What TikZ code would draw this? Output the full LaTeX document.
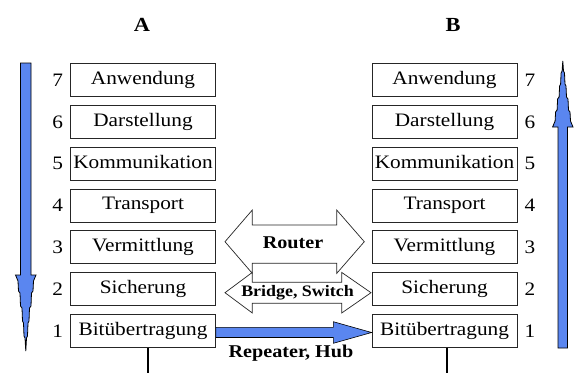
\documentclass[tikz,border=0pt]{standalone}
\usepackage{fontspec}
\setmainfont[FakeStretch=1.12]{Liberation Serif}
\usetikzlibrary{arrows.meta,positioning,calc}
\definecolor{flowblue}{RGB}{90,134,240}

\begin{document}
\begin{tikzpicture}[
    x=1pt, y=-1pt,
    layer/.style={
        rectangle,
        draw=black!85,
        line width=0.8pt,
        fill=white,
        minimum width=145pt,
        minimum height=33pt,
        inner sep=0pt,
        text height=13pt,
        text depth=4pt,
        font=\fontsize{19}{22}\selectfont
    },
    num/.style={
        inner sep=0pt,
        font=\fontsize{19}{22}\selectfont
    },
    side/.style={
        inner sep=0pt,
        font=\bfseries\fontsize{20}{24}\selectfont
    },
    device/.style={
        inner sep=0pt,
        font=\bfseries\fontsize{18}{21}\selectfont
    },
    twoway/.style={
        draw=black!85,
        line width=0.7pt,
        fill=white,
        line join=miter
    },
    stack/.style={
        draw=black,
        line width=0.8pt,
        fill=flowblue
    },
    wire/.style={
        line width=2pt
    }
]

% ---- Page frame ----
\fill[white] (0,0) rectangle (574,373);
\useasboundingbox (0,0) rectangle (574,373);

% ---- System names ----
\node[side] (nameA) at (142,25) {A};
\node[side] (nameB) at (453,25) {B};

% ---- Layer stack of A (left) ----
\node[layer] (a7) at (143,80.0)  {Anwendung};
\node[layer] (a6) at (143,121.8) {Darstellung};
\node[layer] (a5) at (143,163.6) {Kommunikation};
\node[layer] (a4) at (143,205.4) {Transport};
\node[layer] (a3) at (143,247.2) {Vermittlung};
\node[layer] (a2) at (143,289.0) {Sicherung};
\node[layer] (a1) at (143,330.8) {Bitübertragung};

\node[num, left=7pt of a7] (na7) {7};
\node[num, left=7pt of a6] (na6) {6};
\node[num, left=7pt of a5] (na5) {5};
\node[num, left=7pt of a4] (na4) {4};
\node[num, left=7pt of a3] (na3) {3};
\node[num, left=7pt of a2] (na2) {2};
\node[num, left=7pt of a1] (na1) {1};

% ---- Layer stack of B (right) ----
\node[layer] (b7) at (444.5,80.0)  {Anwendung};
\node[layer] (b6) at (444.5,121.8) {Darstellung};
\node[layer] (b5) at (444.5,163.6) {Kommunikation};
\node[layer] (b4) at (444.5,205.4) {Transport};
\node[layer] (b3) at (444.5,247.2) {Vermittlung};
\node[layer] (b2) at (444.5,289.0) {Sicherung};
\node[layer] (b1) at (444.5,330.8) {Bitübertragung};

\node[num, right=7pt of b7] (nb7) {7};
\node[num, right=7pt of b6] (nb6) {6};
\node[num, right=7pt of b5] (nb5) {5};
\node[num, right=7pt of b4] (nb4) {4};
\node[num, right=7pt of b3] (nb3) {3};
\node[num, right=7pt of b2] (nb2) {2};
\node[num, right=7pt of b1] (nb1) {1};

% ---- Coupling devices ----
\draw[twoway] (225,241.7) -- (252.3,210) -- (252.3,225) -- (336.7,225)
    -- (336.7,210) -- (364.3,241.7) -- (336.7,273.4) -- (336.7,263.3)
    -- (252.3,263.3) -- (252.3,273.4) -- cycle;
\node[device] (router) at (293,242.7) {Router};

\draw[twoway] (225,292.7) -- (252.3,272.4) -- (252.3,282.3) -- (341.7,282.3)
    -- (341.7,272.4) -- (371,292.7) -- (341.7,313) -- (341.7,303.3)
    -- (252.3,303.3) -- (252.3,313) -- cycle;
\node[device, font=\bfseries\fontsize{16}{19}\selectfont] (bridge) at (297.5,292.5) {Bridge, Switch};

\draw[stack, line width=0.6pt] (a1.east |- 0,327.3) -- (333.3,327.3) -- (333.3,321.7)
    -- (b1.west |- 0,332.5) -- (333.3,343.3) -- (333.3,337.5)
    -- (a1.east |- 0,337.5) -- cycle;
\node[device] (hub) at (291,353) {Repeater, Hub};

% ---- Cable below both stacks ----
\coordinate (groundA) at (147.7,373);
\coordinate (groundB) at (447,373);
\draw[wire] (a1.south -| groundA) -- (groundA);
\draw[wire] (b1.south -| groundB) -- (groundB);

% ---- Direction through the stacks ----
\draw[stack] (20.5,63) -- (31,63) -- (31,275) -- (36,275) -- (33.5,281)
    -- (33,291) -- (31.5,293) -- (31,306) -- (29.5,308) -- (29,321)
    -- (28,323) -- (27.5,336) -- (26.5,338) -- (25.8,351) -- (25,338)
    -- (24,336) -- (23.5,323) -- (22.5,321) -- (22,308) -- (20.5,306)
    -- (20,293) -- (18.5,291) -- (18,281) -- (15.5,275) -- (20.5,275) -- cycle;
\draw[stack] (558,348) -- (567.5,348) -- (567.5,127) -- (573,127) -- (570.5,121)
    -- (570,112) -- (568.5,110) -- (568,99) -- (566.5,97) -- (566,86)
    -- (565,84) -- (564.5,73) -- (563.5,71) -- (562.8,61) -- (562.1,71)
    -- (561.1,73) -- (560.6,84) -- (559.6,86) -- (559.1,97) -- (557.6,99)
    -- (557.1,110) -- (555.6,112) -- (555.1,121) -- (552.6,127) -- (558,127) -- cycle;

\end{tikzpicture}
\end{document}
